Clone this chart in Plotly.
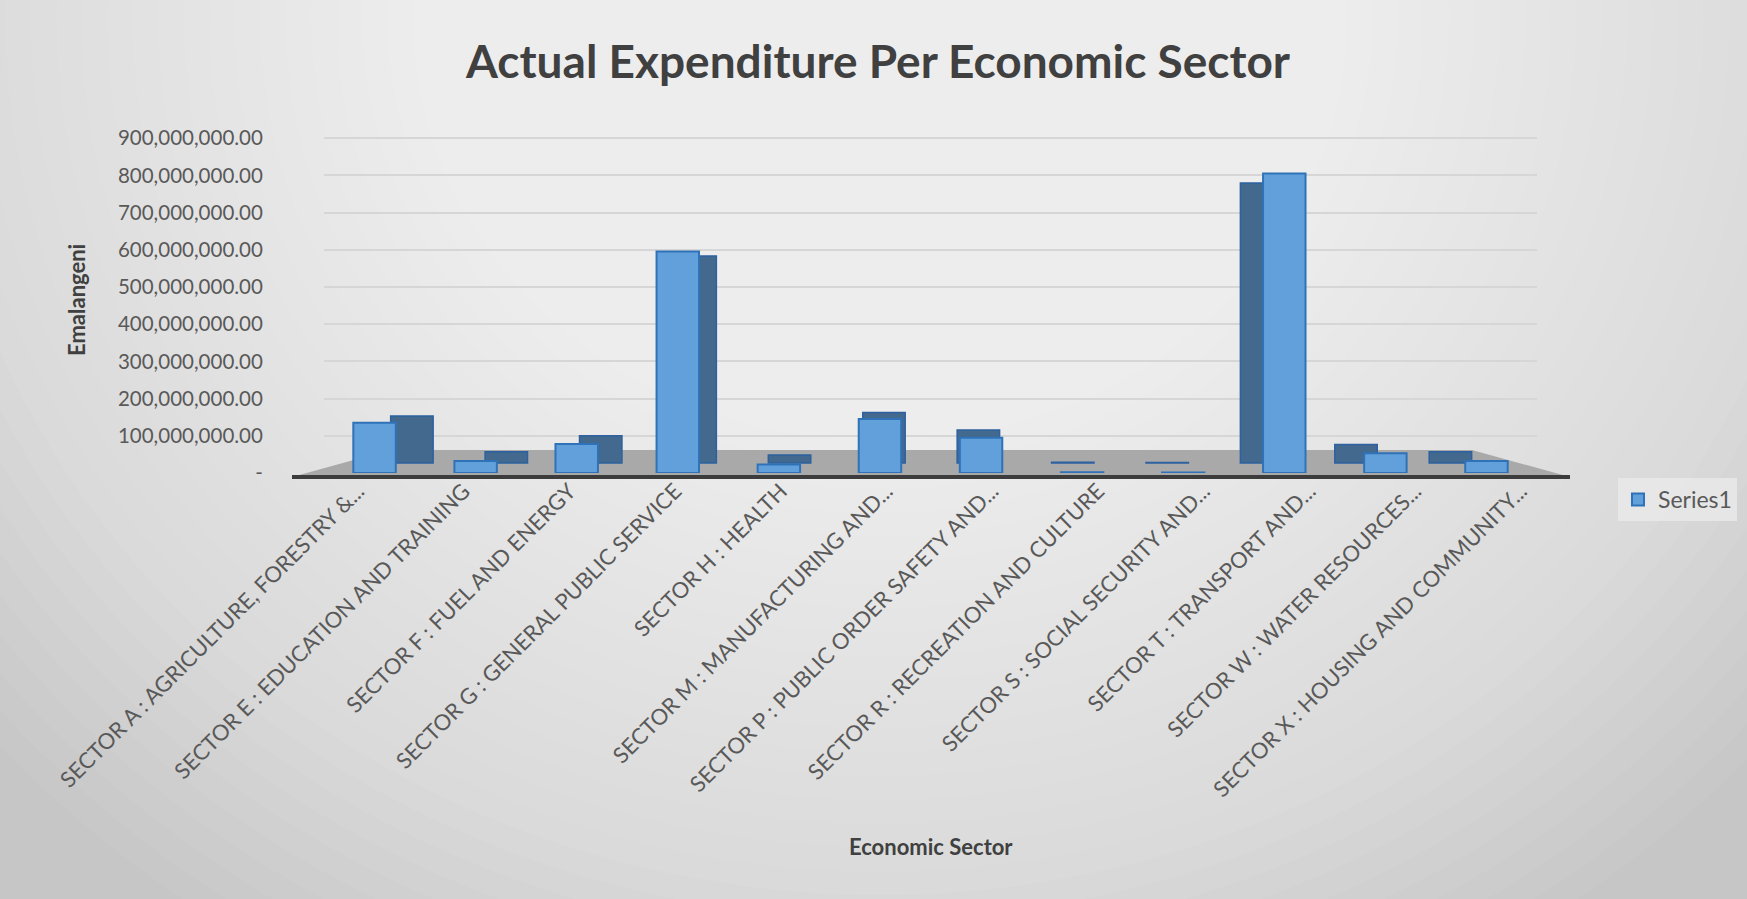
import plotly.graph_objects as go

categories = [
    "SECTOR A : AGRICULTURE, FORESTRY &...",
    "SECTOR E : EDUCATION AND TRAINING",
    "SECTOR F : FUEL AND ENERGY",
    "SECTOR G : GENERAL PUBLIC SERVICE",
    "SECTOR H : HEALTH",
    "SECTOR M : MANUFACTURING AND...",
    "SECTOR P : PUBLIC ORDER SAFETY AND...",
    "SECTOR R : RECREATION AND CULTURE",
    "SECTOR S : SOCIAL SECURITY AND...",
    "SECTOR T : TRANSPORT AND...",
    "SECTOR W : WATER RESOURCES...",
    "SECTOR X : HOUSING AND COMMUNITY...",
]
values = [135e6, 32e6, 78e6, 595e6, 23e6, 145e6, 95e6, 2e6, 1.5e6, 805e6, 53e6, 32e6]
series_name = "Series1"
tick_vals = [0, 100e6, 200e6, 300e6, 400e6, 500e6, 600e6, 700e6, 800e6, 900e6]
tick_text = ["-", "100,000,000.00", "200,000,000.00", "300,000,000.00", "400,000,000.00",
             "500,000,000.00", "600,000,000.00", "700,000,000.00", "800,000,000.00",
             "900,000,000.00"]

W, H = 1747, 899
L, R, T, B = 324, 1537, 137, 473
FONT = "Lato"
BAR_W = 0.42
Y_MAX = 903e6


def px(x):
    return (x - L) / (R - L)


def py(y):
    return (B - y) / (B - T)


n = len(categories)
positions = list(range(n))
# 3D look: a darker back face, shifted toward the vanishing point, raised and
# slightly foreshortened (perspective of the same values)
vanish = 5.6
side_shift = [(vanish - i) * 0.066 for i in positions]
back_offset = [-BAR_W / 2 + s for s in side_shift]
depth_lift = 10 / (B - T) * Y_MAX
depth_scale = 0.935
back_values = [v * depth_scale for v in values]

# category labels sit on the (wider) front edge of the 3D floor
lbl_first, lbl_step = 358, 105.7
lbl_r0 = -(lbl_first - L) / lbl_step
lbl_r1 = lbl_r0 + (R - L) / lbl_step

fig = go.Figure()
fig.add_trace(go.Bar(
    x=positions, y=back_values, base=depth_lift, width=BAR_W, offset=back_offset,
    marker=dict(color="#43698f", line=dict(color="#2d61a0", width=1.5)),
    showlegend=False, hoverinfo="skip",
))
fig.add_trace(go.Bar(
    x=positions, y=values, name=series_name, width=BAR_W, offset=-BAR_W / 2,
    marker=dict(color="#62a0dc", line=dict(color="#2f72b8", width=2)),
    customdata=categories, hovertemplate="%{customdata}<br>%{y:,.2f}<extra></extra>",
    showlegend=True,
))
# carrier for the category label axis (no visible marks)
fig.add_trace(go.Scatter(
    x=positions, y=[None] * n, xaxis="x2", yaxis="y", mode="markers",
    showlegend=False, hoverinfo="skip",
))

shapes = []
# soft radial background gradient
N = 44
cx, cy = 880, 20
for k in range(N):
    f = 1 - k / N
    rx, ry = 1120 * f + 60, 1050 * f + 40
    shapes.append(dict(type="circle", xref="paper", yref="paper",
                       x0=px(cx - rx), x1=px(cx + rx), y0=py(cy + ry), y1=py(cy - ry),
                       fillcolor="rgba(255,255,255,0.052)", line=dict(width=0), layer="below"))
# floor
shapes.append(dict(type="path", xref="paper", yref="paper",
                   path=f"M {px(292)},{py(477)} L {px(1570)},{py(477)} L {px(1472)},{py(450)} L {px(390)},{py(450)} Z",
                   fillcolor="#a9a9a9", line=dict(width=0), layer="below"))
shapes.append(dict(type="line", xref="paper", yref="paper",
                   x0=px(292), x1=px(1570), y0=py(477), y1=py(477),
                   line=dict(color="#3c3c3c", width=4), layer="below"))

annotations = [
    dict(text="<b>Economic Sector</b>", xref="paper", yref="paper",
         x=px(931), y=py(846), showarrow=False, xanchor="center", yanchor="middle",
         font=dict(family=FONT, size=22, color="#404040")),
    dict(text="<b>Emalangeni</b>", xref="paper", yref="paper", textangle=-90,
         x=px(76), y=py(300), showarrow=False, xanchor="center", yanchor="middle",
         font=dict(family=FONT, size=22, color="#404040")),
]

fig.update_layout(
    width=W, height=H,
    margin=dict(l=L, r=W - R, t=T, b=H - B, autoexpand=False),
    paper_bgcolor="#c6c6c6",
    plot_bgcolor="rgba(0,0,0,0)",
    barmode="overlay",
    title=dict(text="<b>Actual Expenditure Per Economic Sector</b>", x=px(878), xref="paper",
               xanchor="center", y=1 - 62 / H, yanchor="middle",
               font=dict(family=FONT, size=46, color="#404040")),
    font=dict(family=FONT, color="#595959"),
    shapes=shapes,
    annotations=annotations,
    legend=dict(x=px(1618), y=py(478), xanchor="left", yanchor="top",
                bgcolor="rgba(232,232,232,0.9)", font=dict(family=FONT, size=23, color="#595959"),
                itemsizing="constant"),
    xaxis=dict(range=[-0.5, n - 0.5], showticklabels=False, showgrid=False, showline=False,
               zeroline=False, ticks="", automargin=False, fixedrange=True),
    xaxis2=dict(overlaying="x", anchor="y", side="bottom", range=[lbl_r0, lbl_r1],
                tickmode="array", tickvals=positions, ticktext=categories,
                tickangle=-45, tickfont=dict(family=FONT, size=22, color="#595959"),
                showgrid=False, showline=False, zeroline=False, ticks="", automargin=False,
                fixedrange=True),
)
fig.update_yaxes(range=[0, Y_MAX], tickvals=tick_vals, ticktext=tick_text,
                 tickfont=dict(family=FONT, size=20.5, color="#595959"),
                 ticks="outside", ticklen=56, tickcolor="rgba(0,0,0,0)",
                 showgrid=True, gridcolor="#d6d6d6", gridwidth=2,
                 zeroline=False, showline=False, automargin=False)

fig.write_html("out.html")
